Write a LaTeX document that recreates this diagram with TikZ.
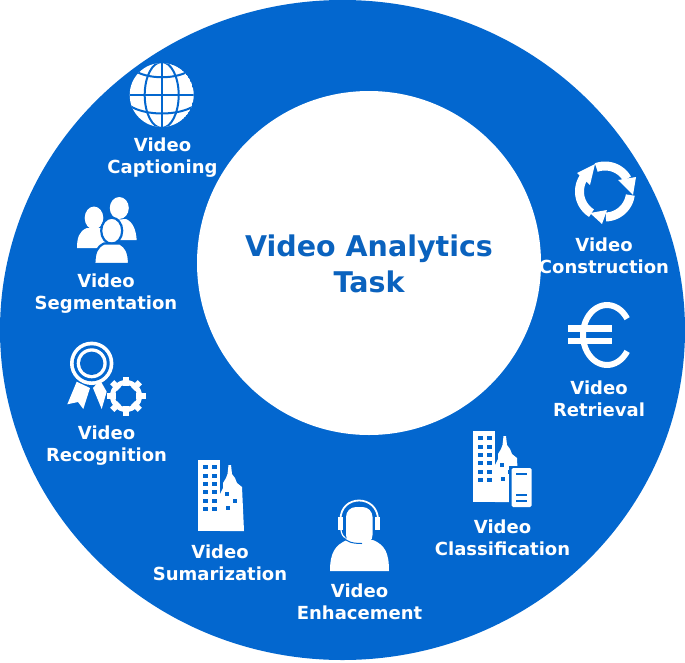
\documentclass[tikz,border=0pt]{standalone}
\usepackage{fontspec}
\setmainfont{DejaVu Sans}
\definecolor{ringblue}{HTML}{0367CF}
\definecolor{titleblue}{HTML}{0A62BE}
\tikzset{
  lab/.style={text=white,font=\fontsize{18}{22}\selectfont\bfseries,align=center,inner sep=0pt},
  ttl/.style={text=titleblue,font=\fontsize{28.5}{36}\selectfont\bfseries,align=center,inner sep=0pt},
  ico/.style={fill=white,draw=none},
  cut/.style={draw=ringblue,line width=2pt,fill=none},
  hole/.style={fill=ringblue,draw=none},
  sep/.style={draw=ringblue,line width=2.2pt,fill=white}
}
\newcommand{\tower}[2]{%
 \begin{scope}[shift={(#1,#2)}]
  \fill[ico] (0,0) rectangle (22,71);
  \fill[ico] (22,71) -- (22,34) -- (25,28) -- (25,23) -- (28,18) -- (29.5,14) -- (30.5,5) -- (33,5) -- (34,14) -- (37,18) -- (39,23) -- (44,27) -- (46,71) -- cycle;
  \foreach \yy in {5,13.5,22,30,38.5,47}{\fill[hole] (5,\yy) rectangle +(4.5,4.2); \fill[hole] (14,\yy) rectangle +(4.5,4.2);}
  \fill[hole] (27,32) rectangle +(4,4); \fill[hole] (35,39) rectangle +(4,4); \fill[hole] (28,46) rectangle +(4,4);
 \end{scope}}
\newcommand{\cirarc}[4]{%
 plot[domain=#1:#2,samples=40,smooth] ({\cx+#3*cos(\x)},{\cy+#4*sin(\x)})}
\begin{document}
\begin{tikzpicture}[x=1pt,y=-1pt]
\useasboundingbox (0,0) rectangle (685,662);
\fill[white] (0,0) rectangle (685,662);
\fill[ringblue] (342.5,330) ellipse [x radius=342.5,y radius=330];
\fill[white] (369,263) circle [radius=172];
\node[ttl] (title) at (369,263.5) {Video Analytics\\Task};
\node[lab] (cap) at (162.5,158) {Video\\Captioning};
\node[lab] (seg) at (106,294) {Video\\Segmentation};
\node[lab] (rec) at (106.5,446) {Video\\Recognition};
\node[lab] (sum) at (220,563) {Video\\Sumarization};
\node[lab] (enh) at (359.5,602) {Video\\Enhacement};
\node[lab] (cla) at (502.5,538) {Video\\Classification};
\node[lab] (ret) at (599,399) {Video\\Retrieval};
\node[lab] (con) at (604,256) {Video\\Construction};
% globe
\begin{scope}
 \clip (161.7,95) circle [radius=32];
 \fill[ico] (161.7,95) circle [radius=32];
 \draw[cut] (161.7,60) -- (161.7,130);
 \draw[cut] (161.7,95) ellipse [x radius=17,y radius=33];
 \draw[cut] (128,94.5) -- (196,94.5);
 \draw[cut] (132,69) .. controls (146,80) and (178,80) .. (192,69);
 \draw[cut] (130,106) .. controls (146,116) and (178,116) .. (194,106);
\end{scope}
% people
\fill[ico] (119.3,208) ellipse [x radius=9.5,y radius=11];
\fill[ico] (112,220) -- (126,219) .. controls (133,222) and (136,230) .. (136.7,240) -- (110,240) -- cycle;
\fill[ico] (94,218) ellipse [x radius=9.3,y radius=11.5];
\fill[ico] (77,248) .. controls (77,238) and (79,231) .. (87,228) -- (101,228) .. controls (108,232) and (110,240) .. (110,248) -- cycle;
\draw[sep] (111.7,230.7) ellipse [x radius=10.5,y radius=13];
\draw[sep] (94.3,264) .. controls (94.5,252) and (97,247) .. (104,243.5) -- (120,243.5) .. controls (126,247) and (129,252) .. (129,264) -- cycle;
\fill[ringblue] (90,263) rectangle (134,267);
% medal and gear
\fill[ico] (76.7,381.7) -- (67.3,404.3) -- (78,402) -- (83.3,409) -- (90,388) -- cycle;
\fill[ico] (93,388) -- (101.7,409) -- (106.7,391.7) -- (100,380) -- cycle;
\fill[ico] (91.7,363.3) circle [radius=21.7];
\fill[hole] (91.7,363.3) circle [radius=18];
\fill[ico] (91.7,363.3) circle [radius=15];
\fill[hole] (91.7,363.3) circle [radius=11.7];
\foreach \a in {0,45,...,315}{
 \fill[ico,rotate around={\a:(126,396)}] (123,376.5) rectangle (129,386);
}
\draw[white,line width=5pt] (126,396) circle [radius=13.5];
% towers
\tower{198}{460}
\tower{473}{431}
\fill[ringblue] (509,465.5) rectangle (534,510);
\fill[ico,rounded corners=1.5pt] (511.7,468) rectangle (531.7,507);
\draw[ringblue,line width=1.2pt] (516,474) -- (527,474) (516,495) -- (527,495) (516,501) -- (527,501);
% headset person
\fill[ico] (330,571) .. controls (330,553) and (335,545) .. (347,540) -- (373,540) .. controls (385,545) and (389,553) .. (389,571) -- cycle;
\fill[ico,rounded corners=10pt] (346,507) rectangle (372.5,545);
\draw[white,line width=1.8pt] (340.5,520) .. controls (340,494) and (378,494) .. (378,520);
\fill[ico] (338,517) rectangle (343,530);
\fill[ico] (375,517) rectangle (380,530);
\draw[white,line width=1.2pt] (341,530) .. controls (342,538) and (348,541.5) .. (355,541.5);
\draw[ringblue,line width=1pt] (344,538) .. controls (347,541) and (350,543.5) .. (362,543.5);
% recycle arrows
\def\cx{605}\def\cy{191.5}
\draw[white,line width=9pt] \cirarc{-110}{-30}{25.5}{25.5};
\draw[white,line width=9pt] \cirarc{8}{88}{25.5}{25.5};
\draw[white,line width=9pt] \cirarc{122}{216}{25.5}{25.5};
\fill[ico] (636,177) -- (618,180) -- (633,195) -- cycle;
\fill[ico] (590,213) -- (607,210) -- (602,224) -- cycle;
\fill[ico] (595,164) -- (577,173) -- (590,185) -- cycle;
% euro
\def\cx{607}\def\cy{335}
\draw[white,line width=6pt] \cirarc{-327}{-33}{24}{30};
\fill[ico] (568,325) rectangle (612,331.5);
\fill[ico] (568,338) rectangle (612,344);
\end{tikzpicture}
\end{document}
